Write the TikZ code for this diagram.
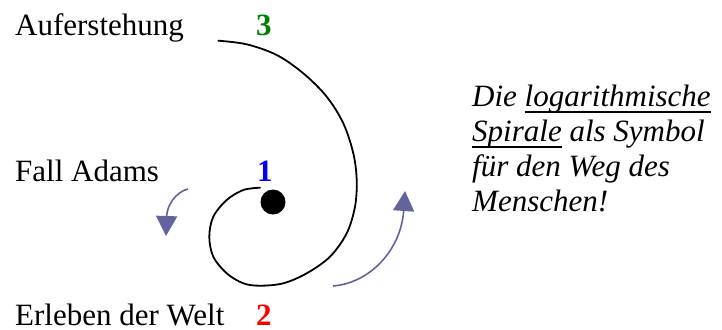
\documentclass[tikz,border=0pt]{standalone}
\usepackage{fontspec}
\setmainfont{Liberation Serif}
\usetikzlibrary{arrows.meta}
\definecolor{cnavy}{HTML}{63639E}
\definecolor{cgreen}{HTML}{008000}
\newcommand\ulword[1]{\setbox0\hbox{#1}\rlap{\rule[-0.23em]{\wd0}{0.06em}}\box0\relax}
\tikzset{
  every picture/.style={x=1pt, y=-1pt},
  lbl/.style={anchor=base west, inner sep=0pt, font=\fontsize{31}{35}\selectfont},
  num/.style={lbl, font=\fontsize{31}{35}\selectfont\bfseries, text=#1},
  note/.style={lbl, font=\fontsize{31}{35}\selectfont\itshape},
  flowarrow/.style={-{Triangle[length=20pt, width=21pt]}, draw=cnavy, line width=1.6pt},
  spiral/.style={line width=1.8pt, line cap=round},
}
\begin{document}
\begin{tikzpicture}
  \useasboundingbox (0,0) rectangle (722,329);
  % labels
  \node[lbl] (auf) at (15,36) {Auferstehung};
  \node[lbl] (fall) at (15,181) {Fall Adams};
  \node[lbl] (welt) at (15,325) {Erleben der Welt};
  \node[num=cgreen] (n3) at (256,36) {3};
  \node[num=blue] (n1) at (257,181) {1};
  \node[num=red] (n2) at (256,325) {2};
  % note on the right
  \node[note] (note1) at (472,106) {Die \ulword{logarithmische}};
  \node[note] (note2) at (472,141) {\ulword{Spirale} als Symbol};
  \node[note] (note3) at (472,176) {f\"ur den Weg des};
  \node[note] (note4) at (472,211) {Menschen!};
  % spiral
  \node[circle, fill=black, minimum size=25pt, inner sep=0pt] (dot) at (273,202) {};
  \draw[spiral] plot[smooth, tension=0.55] coordinates {
    (260,187.7) (243.3,190) (226.7,200) (213.3,216.7) (209.3,236.7)
    (213.3,256.7) (226.7,273.3) (243.3,283.3) (260,285.7) (283.3,283.3)
    (306.7,273.3) (330,256.7) (346.7,233.3) (355,206.7) (356.7,180)
    (353.3,153.3) (343.3,123.3) (326.7,96.7) (303.3,73.3) (276.7,55)
    (246.7,44.3) (218.3,40.7)};
  % arrows
  \coordinate (la) at (188,189);
  \coordinate (lb) at (166,236);
  \coordinate (ra) at (333,286);
  \coordinate (rb) at (405,191);
  \draw[flowarrow] (la) .. controls (176,192) and (167,205) .. (lb);
  \draw[flowarrow] (ra) .. controls (370,283) and (401,250) .. (rb);
\end{tikzpicture}
\end{document}
